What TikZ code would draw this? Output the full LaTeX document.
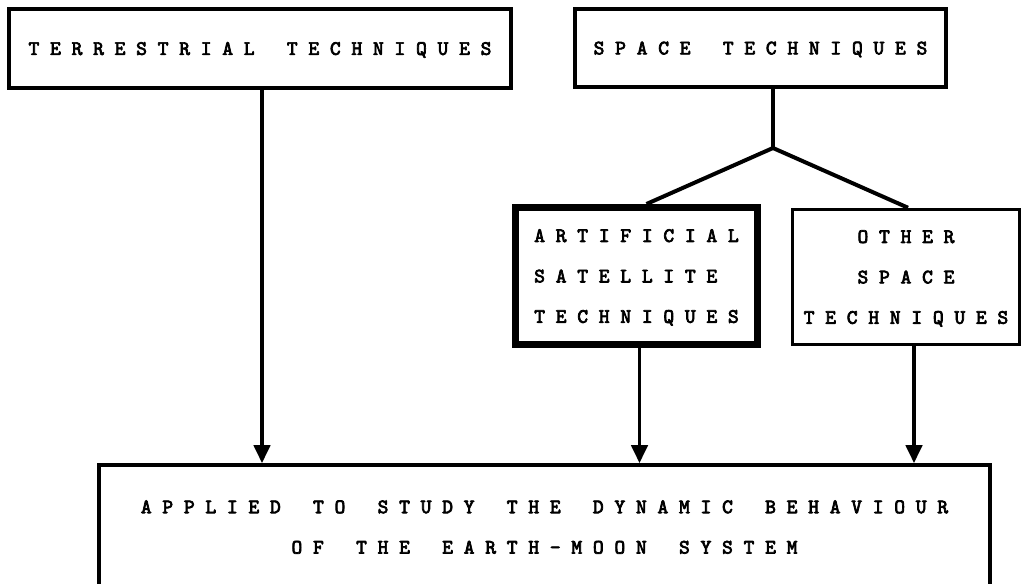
\documentclass[tikz,border=0pt]{standalone}
\usepackage{fontspec}
\newfontfamily\tw{lmmono10-regular}[Extension=.otf,FakeBold=3.5]
\usetikzlibrary{arrows.meta,calc}
\begin{document}
\begin{tikzpicture}[x=0.03cm,y=-0.03cm,
  box/.style={draw,line width=3pt,inner sep=0pt,align=center,text depth=0pt,
    font=\tw\fontsize{17.5}{34.5}\selectfont},
  thickbox/.style={box,line width=6pt},
  conn/.style={line width=3.4pt,line join=round},
  arr/.style={conn,-{Triangle[length=0.54cm,width=0.48cm]}}]
\useasboundingbox (0,0) rectangle (1023,584);
\clip (0,0) rectangle (1023,584);
\fill[white] (0,0) rectangle (1023,584);

\node[box,minimum width=15.06cm,minimum height=2.37cm] (T) at (260,48.5)
  {T~E~R~R~E~S~T~R~I~A~L~~~T~E~C~H~N~I~Q~U~E~S};
\node[box,minimum width=11.13cm,minimum height=2.34cm] (S) at (760.5,48)
  {S~P~A~C~E~~~T~E~C~H~N~I~Q~U~E~S};
\node[thickbox,align=left,minimum width=7.26cm,minimum height=4.11cm] (A) at (636.5,276)
  {A~R~T~I~F~I~C~I~A~L\\S~A~T~E~L~L~I~T~E\\T~E~C~H~N~I~Q~U~E~S};
\node[box,minimum width=6.81cm,minimum height=4.05cm] (O) at (906,277)
  {O~T~H~E~R\\S~P~A~C~E\\T~E~C~H~N~I~Q~U~E~S};
\node[box,minimum width=26.73cm,minimum height=3.72cm] (B) at (544.5,527)
  {A~P~P~L~I~E~D~~~T~O~~~S~T~U~D~Y~~~T~H~E~~~D~Y~N~A~M~I~C~~~B~E~H~A~V~I~O~U~R\\
   O~F~~~T~H~E~~~E~A~R~T~H~-~M~O~O~N~~~S~Y~S~T~E~M};

\coordinate (J) at (773,148);
\draw[conn] (J |- S.south) -- (J);
\draw[conn] ($(A.north)+(10,0)$) -- (J) -- ($(O.north)+(2,0)$);

\draw[arr] ($(T.south)+(2,0)$) -- ($(T.south |- B.north)+(2,0)$);
\draw[arr] ($(A.south)+(3,0)$) -- ($(A.south |- B.north)+(3,0)$);
\draw[arr] ($(O.south)+(8,0)$) -- ($(O.south |- B.north)+(8,0)$);
\end{tikzpicture}
\end{document}
